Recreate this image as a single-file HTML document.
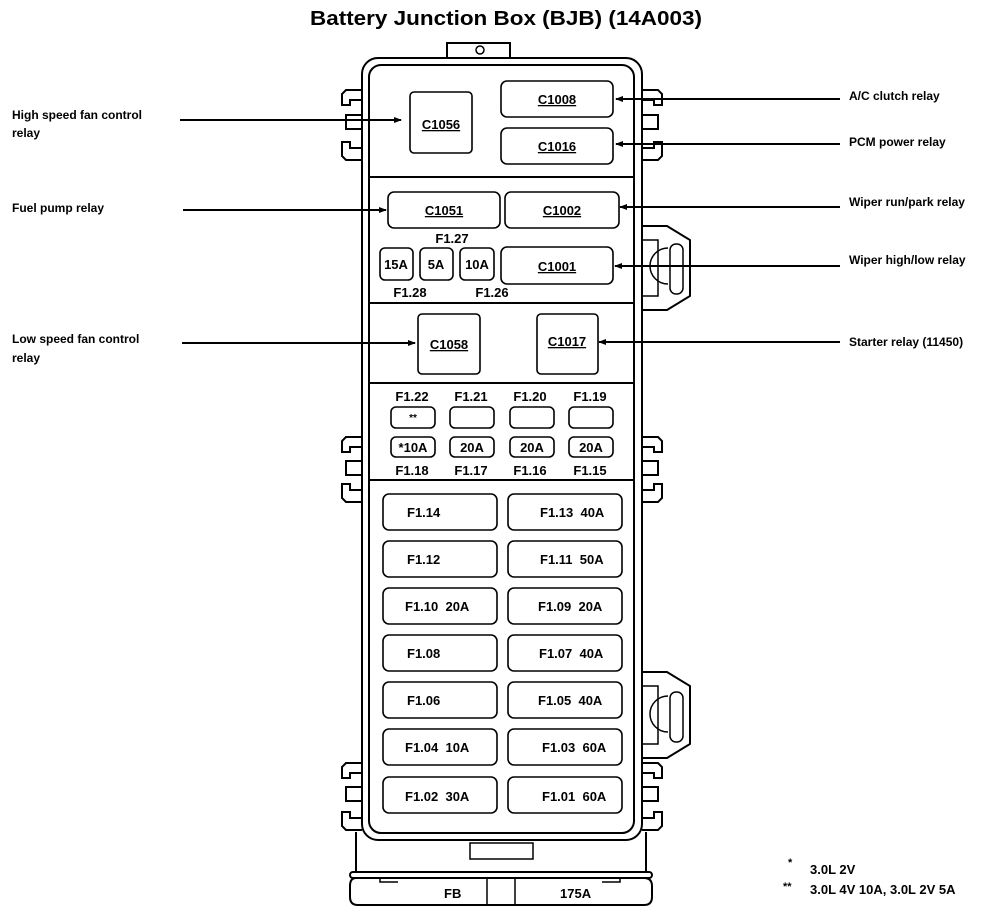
<!DOCTYPE html>
<html><head><meta charset="utf-8"><style>
html,body{margin:0;padding:0;background:#fff;}
svg{display:block;}
text{font-family:"Liberation Sans",sans-serif;fill:#000;white-space:pre;}
</style></head><body>
<svg width="1000" height="915" viewBox="0 0 1000 915" xmlns="http://www.w3.org/2000/svg">
<defs><marker id="ah" markerWidth="8" markerHeight="6" refX="7" refY="3" orient="auto" markerUnits="userSpaceOnUse"><path d="M0,0 L8,3 L0,6 z" fill="#000"/></marker></defs>
<text x="506" y="25" font-size="20" font-weight="bold" text-anchor="middle" textLength="392" lengthAdjust="spacingAndGlyphs">Battery Junction Box (BJB) (14A003)</text>
<g fill="none" stroke="#000" stroke-width="2">
<path d="M447,58 V43 H510 V58"/>
<circle cx="480" cy="50" r="4" stroke-width="1.5"/>
<path d="M362,90 H346 L342,94 V105 H350 V100 H362"/>
<rect x="346" y="115" width="16" height="14"/>
<path d="M362,160 H346 L342,156 V142 H350 V148 H362"/>
<path d="M362,437 H346 L342,441 V452 H350 V447 H362"/>
<rect x="346" y="461" width="16" height="14"/>
<path d="M362,502 H346 L342,498 V484 H350 V490 H362"/>
<path d="M362,763 H346 L342,767 V778 H350 V773 H362"/>
<rect x="346" y="787" width="16" height="14"/>
<path d="M362,830 H346 L342,826 V812 H350 V818 H362"/>
<path d="M642,90 H658 L662,94 V105 H654 V100 H642"/>
<rect x="642" y="115" width="16" height="14"/>
<path d="M642,160 H658 L662,156 V142 H654 V148 H642"/>
<path d="M642,437 H658 L662,441 V452 H654 V447 H642"/>
<rect x="642" y="461" width="16" height="14"/>
<path d="M642,502 H658 L662,498 V484 H654 V490 H642"/>
<path d="M642,763 H658 L662,767 V778 H654 V773 H642"/>
<rect x="642" y="787" width="16" height="14"/>
<path d="M642,830 H658 L662,826 V812 H654 V818 H642"/>
<path d="M642,226 H667 L690,240 V296 L667,310 H642"/>
<rect x="642" y="240" width="16" height="56" stroke-width="1.5"/>
<path d="M668,248 A18,18 0 0 0 668,284" stroke-width="1.5"/>
<rect x="670" y="244" width="13" height="50" rx="6" stroke-width="1.5"/>
<path d="M642,672 H667 L690,686 V744 L667,758 H642"/>
<rect x="642" y="686" width="16" height="58" stroke-width="1.5"/>
<path d="M668,696 A18,18 0 0 0 668,732" stroke-width="1.5"/>
<rect x="670" y="692" width="13" height="50" rx="6" stroke-width="1.5"/>
<rect x="362" y="58" width="280" height="782" rx="16"/>
<rect x="369" y="65" width="265" height="768" rx="12"/>
<line x1="369" y1="177" x2="634" y2="177"/>
<line x1="369" y1="303" x2="634" y2="303"/>
<line x1="369" y1="383" x2="634" y2="383"/>
<line x1="369" y1="480" x2="634" y2="480"/>
<path d="M356,832 V872 M646,832 V872"/>
<rect x="470" y="843" width="63" height="16" stroke-width="1.5"/>
<rect x="350" y="872" width="302" height="6" rx="3"/>
<path d="M356,878 Q350,878 350,886 V897 Q350,905 358,905 H644 Q652,905 652,897 V886 Q652,878 644,878"/>
<path d="M380,878 V882 H398 M620,878 V882 H602" stroke-width="1.5"/>
<path d="M487,878 V905 M515,878 V905" stroke-width="1.5"/>
</g>
<g fill="none" stroke="#000" stroke-width="1.6">
<rect x="410" y="92" width="62" height="61" rx="4"/>
<rect x="501" y="81" width="112" height="36" rx="6"/>
<rect x="501" y="128" width="112" height="36" rx="6"/>
<rect x="388" y="192" width="112" height="36" rx="6"/>
<rect x="505" y="192" width="114" height="36" rx="6"/>
<rect x="380" y="248" width="33" height="32" rx="5"/>
<rect x="420" y="248" width="33" height="32" rx="5"/>
<rect x="460" y="248" width="34" height="32" rx="5"/>
<rect x="501" y="247" width="112" height="37" rx="6"/>
<rect x="418" y="314" width="62" height="60" rx="4"/>
<rect x="537" y="314" width="61" height="60" rx="4"/>
<rect x="391" y="407" width="44" height="21" rx="5"/>
<rect x="450" y="407" width="44" height="21" rx="5"/>
<rect x="510" y="407" width="44" height="21" rx="5"/>
<rect x="569" y="407" width="44" height="21" rx="5"/>
<rect x="391" y="437" width="44" height="20" rx="5"/>
<rect x="450" y="437" width="44" height="20" rx="5"/>
<rect x="510" y="437" width="44" height="20" rx="5"/>
<rect x="569" y="437" width="44" height="20" rx="5"/>
<rect x="383" y="494" width="114" height="36" rx="6"/><rect x="508" y="494" width="114" height="36" rx="6"/>
<rect x="383" y="541" width="114" height="36" rx="6"/><rect x="508" y="541" width="114" height="36" rx="6"/>
<rect x="383" y="588" width="114" height="36" rx="6"/><rect x="508" y="588" width="114" height="36" rx="6"/>
<rect x="383" y="635" width="114" height="36" rx="6"/><rect x="508" y="635" width="114" height="36" rx="6"/>
<rect x="383" y="682" width="114" height="36" rx="6"/><rect x="508" y="682" width="114" height="36" rx="6"/>
<rect x="383" y="729" width="114" height="36" rx="6"/><rect x="508" y="729" width="114" height="36" rx="6"/>
<rect x="383" y="777" width="114" height="36" rx="6"/><rect x="508" y="777" width="114" height="36" rx="6"/>
</g>
<g stroke="#000" stroke-width="2" marker-end="url(#ah)">
<line x1="180" y1="120" x2="401" y2="120"/>
<line x1="183" y1="210" x2="386" y2="210"/>
<line x1="182" y1="343" x2="415" y2="343"/>
<line x1="840" y1="99" x2="616" y2="99"/>
<line x1="840" y1="144" x2="616" y2="144"/>
<line x1="840" y1="207" x2="620" y2="207"/>
<line x1="840" y1="266" x2="615" y2="266"/>
<line x1="840" y1="342" x2="599" y2="342"/>
</g>
<g font-size="12" font-weight="bold">
<text x="12" y="119">High speed fan control</text>
<text x="12" y="137">relay</text>
<text x="12" y="212">Fuel pump relay</text>
<text x="12" y="343">Low speed fan control</text>
<text x="12" y="362">relay</text>
<text x="849" y="100">A/C clutch relay</text>
<text x="849" y="146">PCM power relay</text>
<text x="849" y="206">Wiper run/park relay</text>
<text x="849" y="264">Wiper high/low relay</text>
<text x="849" y="346">Starter relay (11450)</text>
</g>
<g font-size="13" font-weight="bold" text-anchor="middle" text-decoration="underline">
<text x="441" y="129">C1056</text>
<text x="557" y="104">C1008</text>
<text x="557" y="151">C1016</text>
<text x="444" y="215">C1051</text>
<text x="562" y="215">C1002</text>
<text x="557" y="271">C1001</text>
<text x="449" y="349">C1058</text>
<text x="567" y="346">C1017</text>
</g>
<g font-size="13" font-weight="bold" text-anchor="middle">
<text x="452" y="243">F1.27</text>
<text x="396" y="269">15A</text>
<text x="436" y="269">5A</text>
<text x="477" y="269">10A</text>
<text x="410" y="297">F1.28</text>
<text x="492" y="297">F1.26</text>
<text x="412" y="401">F1.22</text><text x="471" y="401">F1.21</text><text x="530" y="401">F1.20</text><text x="590" y="401">F1.19</text>
<text x="413" y="421" font-size="10">**</text>
<text x="413" y="452">*10A</text><text x="472" y="452">20A</text><text x="532" y="452">20A</text><text x="591" y="452">20A</text>
<text x="412" y="475">F1.18</text><text x="471" y="475">F1.17</text><text x="530" y="475">F1.16</text><text x="590" y="475">F1.15</text>
</g>
<g font-size="13" font-weight="bold">
<text x="407" y="517">F1.14</text><text x="540" y="517">F1.13  40A</text>
<text x="407" y="564">F1.12</text><text x="540" y="564">F1.11  50A</text>
<text x="405" y="611">F1.10  20A</text><text x="538" y="611">F1.09  20A</text>
<text x="407" y="658">F1.08</text><text x="539" y="658">F1.07  40A</text>
<text x="407" y="705">F1.06</text><text x="538" y="705">F1.05  40A</text>
<text x="405" y="752">F1.04  10A</text><text x="542" y="752">F1.03  60A</text>
<text x="405" y="801">F1.02  30A</text><text x="542" y="801">F1.01  60A</text>
<text x="444" y="898">FB</text><text x="560" y="898">175A</text>
<text x="788" y="866" font-size="11">*</text><text x="810" y="874">3.0L 2V</text>
<text x="783" y="890" font-size="11">**</text><text x="810" y="894">3.0L 4V 10A, 3.0L 2V 5A</text>
</g>
</svg>
</body></html>
